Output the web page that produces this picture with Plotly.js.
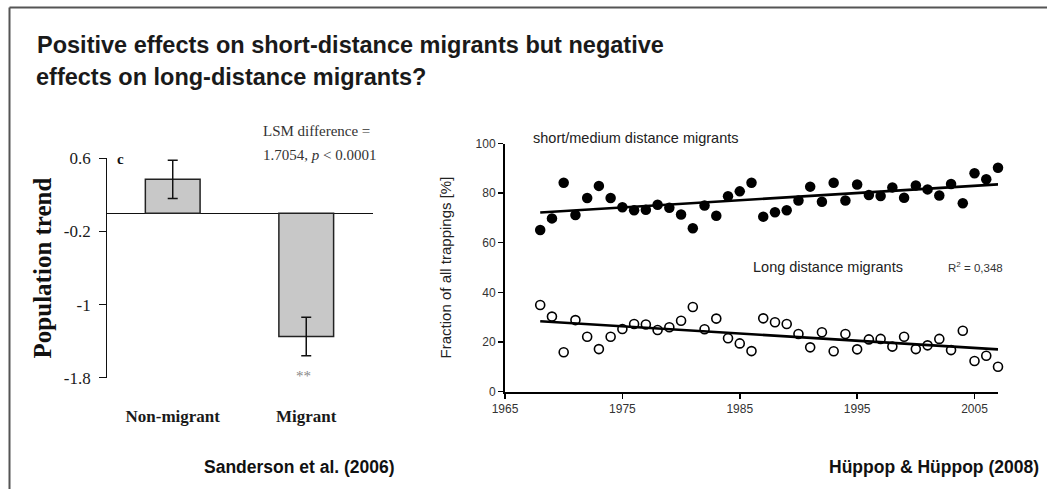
<!DOCTYPE html>
<html>
<head>
<meta charset="utf-8">
<script src="https://cdn.plot.ly/plotly-3.0.1.min.js"></script>
<style>html,body{margin:0;padding:0;background:#fff;}#chart{width:1047px;height:489px;}</style>
</head>
<body>
<div id="chart"></div>
<script>
// Left panel: Sanderson et al. (2006)
var groups = ['Non-migrant', 'Migrant'];
var popTrend = [0.37, -1.35];
var popTrendErr = [0.21, 0.21];
var leftTicks = [0.6, -0.2, -1, -1.8];

// Right panel: Hüppop & Hüppop (2008)
var years = [1968,1969,1970,1971,1972,1973,1974,1975,1976,1977,1978,1979,1980,1981,1982,1983,1984,1985,1986,1987,
             1988,1989,1990,1991,1992,1993,1994,1995,1996,1997,1998,1999,2000,2001,2002,2003,2004,2005,2006,2007];
var shortMedium = [65.1,69.8,84.2,71.2,78,82.9,78,74.3,73.1,73.3,75.3,74.1,71.4,65.8,75,70.9,78.7,80.7,84.2,70.5,
                   72.3,73.1,77,82.6,76.5,84.2,77,83.5,79.2,78.8,82.3,78.1,83.1,81.5,79,83.7,75.9,88,85.6,90.2];
var longDist = [34.9,30.2,15.8,28.8,22.1,17.1,22.1,25.2,27.2,27,24.8,25.9,28.5,34.1,25.1,29.4,21.5,19.4,16.3,29.5,
                27.9,27.2,23.2,17.8,23.9,16.2,23.2,17,21,21.2,18.1,22.1,17.1,18.6,21.2,16.7,24.5,12.3,14.4,10];
var trendYears = [1968, 2007];
var shortTrend = [72.2, 83.5];
var longTrend = [28.3, 17.0];
var xTicks = [1965, 1975, 1985, 1995, 2005];
var yTicks = [0, 20, 40, 60, 80, 100];

var serif = 'Liberation Serif, Times New Roman, serif';
var sans = 'Liberation Sans, Arial, sans-serif';

var traces = [
  {
    type: 'bar', x: groups, y: popTrend, xaxis: 'x', yaxis: 'y', width: 0.41,
    marker: {color: '#c8c8c8', line: {color: '#222', width: 1.5}},
    error_y: {type: 'data', array: popTrendErr, visible: true, color: '#111', thickness: 1.5, width: 5},
    showlegend: false, hoverinfo: 'x+y'
  },
  {
    type: 'scatter', mode: 'markers', x: years, y: shortMedium, xaxis: 'x2', yaxis: 'y2',
    marker: {color: '#000', size: 10.5}, cliponaxis: false, showlegend: false
  },
  {
    type: 'scatter', mode: 'markers', x: years, y: longDist, xaxis: 'x2', yaxis: 'y2',
    marker: {color: '#fff', size: 9, line: {color: '#000', width: 1.6}}, cliponaxis: false, showlegend: false
  },
  {
    type: 'scatter', mode: 'lines', x: trendYears, y: shortTrend, xaxis: 'x2', yaxis: 'y2',
    line: {color: '#000', width: 2.6}, showlegend: false
  },
  {
    type: 'scatter', mode: 'lines', x: trendYears, y: longTrend, xaxis: 'x2', yaxis: 'y2',
    line: {color: '#000', width: 2.6}, showlegend: false
  }
];

var layout = {
  width: 1047, height: 489,
  margin: {l: 0, r: 0, t: 0, b: 0},
  paper_bgcolor: '#fff', plot_bgcolor: 'rgba(0,0,0,0)',
  showlegend: false,
  title: {
    text: 'Positive effects on short-distance migrants but negative',
    x: 37/1047, xanchor: 'left', xref: 'paper',
    y: 1 - 45/489, yanchor: 'middle', yref: 'paper',
    font: {family: sans, size: 23.5, color: '#1a1a1a', weight: 'bold'}
  },
  xaxis: {
    domain: [107.3/1047, 373/1047], anchor: 'y',
    type: 'category', range: [-0.49, 1.5],
    showline: false, showgrid: false, zeroline: false, ticks: '',
    ticklabelstandoff: 26,
    tickfont: {family: serif, size: 17, color: '#1a1a1a', weight: 'bold'}
  },
  yaxis: {
    domain: [(489-377.7)/489, (489-158.3)/489], anchor: 'x',
    range: [-1.8, 0.6], tickvals: leftTicks, ticktext: leftTicks.map(String),
    showline: true, linecolor: '#111', linewidth: 1.2,
    ticks: 'outside', ticklen: 7, tickwidth: 1.2, tickcolor: '#111',
    showgrid: false, zeroline: true, zerolinecolor: '#111', zerolinewidth: 1.2,
    ticklabelstandoff: 5,
    tickfont: {family: serif, size: 17, color: '#1a1a1a'},
    title: {text: 'Population trend', standoff: 5,
            font: {family: serif, size: 25, color: '#111', weight: 'bold'}}
  },
  xaxis2: {
    domain: [505/1047, 998/1047], anchor: 'y2',
    range: [1965, 2007], tickvals: xTicks,
    showline: true, linecolor: '#000', linewidth: 2,
    ticks: 'outside', ticklen: 5, tickwidth: 1.5, tickcolor: '#000',
    showgrid: false, zeroline: false,
    tickfont: {family: sans, size: 12, color: '#333'}
  },
  yaxis2: {
    domain: [(489-391.5)/489, (489-143.5)/489], anchor: 'x2',
    range: [0, 100], tickvals: yTicks,
    showline: true, linecolor: '#000', linewidth: 2,
    ticks: 'outside', ticklen: 5, tickwidth: 1.5, tickcolor: '#000',
    showgrid: false, zeroline: false,
    tickfont: {family: sans, size: 12, color: '#333'},
    title: {text: 'Fraction of all trappings [%]', standoff: 20,
            font: {family: sans, size: 15, color: '#222'}}
  },
  annotations: [
    {text: 'effects on long-distance migrants?', xref: 'paper', yref: 'paper',
     x: 34/1047, y: 1 - 77/489, xanchor: 'left', yanchor: 'middle', showarrow: false,
     font: {family: sans, size: 23.5, color: '#1a1a1a', weight: 'bold'}},
    {text: 'c', xref: 'paper', yref: 'paper', x: 120/1047, y: 1 - 159/489,
     xanchor: 'center', yanchor: 'middle', showarrow: false,
     font: {family: serif, size: 15, color: '#111', weight: 'bold'}},
    {text: 'LSM difference =', xref: 'paper', yref: 'paper', x: 316/1047, y: 1 - 131/489,
     xanchor: 'center', yanchor: 'middle', showarrow: false,
     font: {family: serif, size: 15, color: '#333'}},
    {text: '1.7054, <i>p</i> &lt; 0.0001', xref: 'paper', yref: 'paper', x: 319/1047, y: 1 - 155/489,
     xanchor: 'center', yanchor: 'middle', showarrow: false,
     font: {family: serif, size: 15, color: '#333'}},
    {text: '**', xref: 'paper', yref: 'paper', x: 303/1047, y: 1 - 376/489,
     xanchor: 'center', yanchor: 'middle', showarrow: false,
     font: {family: serif, size: 15, color: '#888'}},
    {text: 'Sanderson et al. (2006)', xref: 'paper', yref: 'paper', x: 299/1047, y: 1 - 467/489,
     xanchor: 'center', yanchor: 'middle', showarrow: false,
     font: {family: sans, size: 17.5, color: '#111', weight: 'bold'}},
    {text: 'Hüppop &amp; Hüppop (2008)', xref: 'paper', yref: 'paper', x: 1041/1047, y: 1 - 467/489,
     xanchor: 'right', yanchor: 'middle', showarrow: false,
     font: {family: sans, size: 17.5, color: '#111', weight: 'bold'}},
    {text: 'short/medium distance migrants', xref: 'paper', yref: 'paper', x: 531/1047, y: 1 - 138/489,
     xanchor: 'left', yanchor: 'middle', showarrow: false,
     font: {family: sans, size: 14.5, color: '#222'}},
    {text: 'Long distance migrants', xref: 'paper', yref: 'paper', x: 751/1047, y: 1 - 267/489,
     xanchor: 'left', yanchor: 'middle', showarrow: false,
     font: {family: sans, size: 14.5, color: '#222'}},
    {text: 'R<sup>2</sup> = 0,348', xref: 'paper', yref: 'paper', x: 946/1047, y: 1 - 267/489,
     xanchor: 'left', yanchor: 'middle', showarrow: false,
     font: {family: sans, size: 11.5, color: '#333'}}
  ],
  shapes: [
    {type: 'line', xref: 'paper', yref: 'paper', x0: 9.5/1047, x1: 1, y0: 1 - 7.5/489, y1: 1 - 7.5/489,
     line: {color: '#555', width: 2}},
    {type: 'line', xref: 'paper', yref: 'paper', x0: 9.5/1047, x1: 9.5/1047, y0: 0, y1: 1 - 7.5/489,
     line: {color: '#555', width: 2}}
  ]
};

Plotly.newPlot('chart', traces, layout, {displayModeBar: false, staticPlot: true});
</script>
</body>
</html>
